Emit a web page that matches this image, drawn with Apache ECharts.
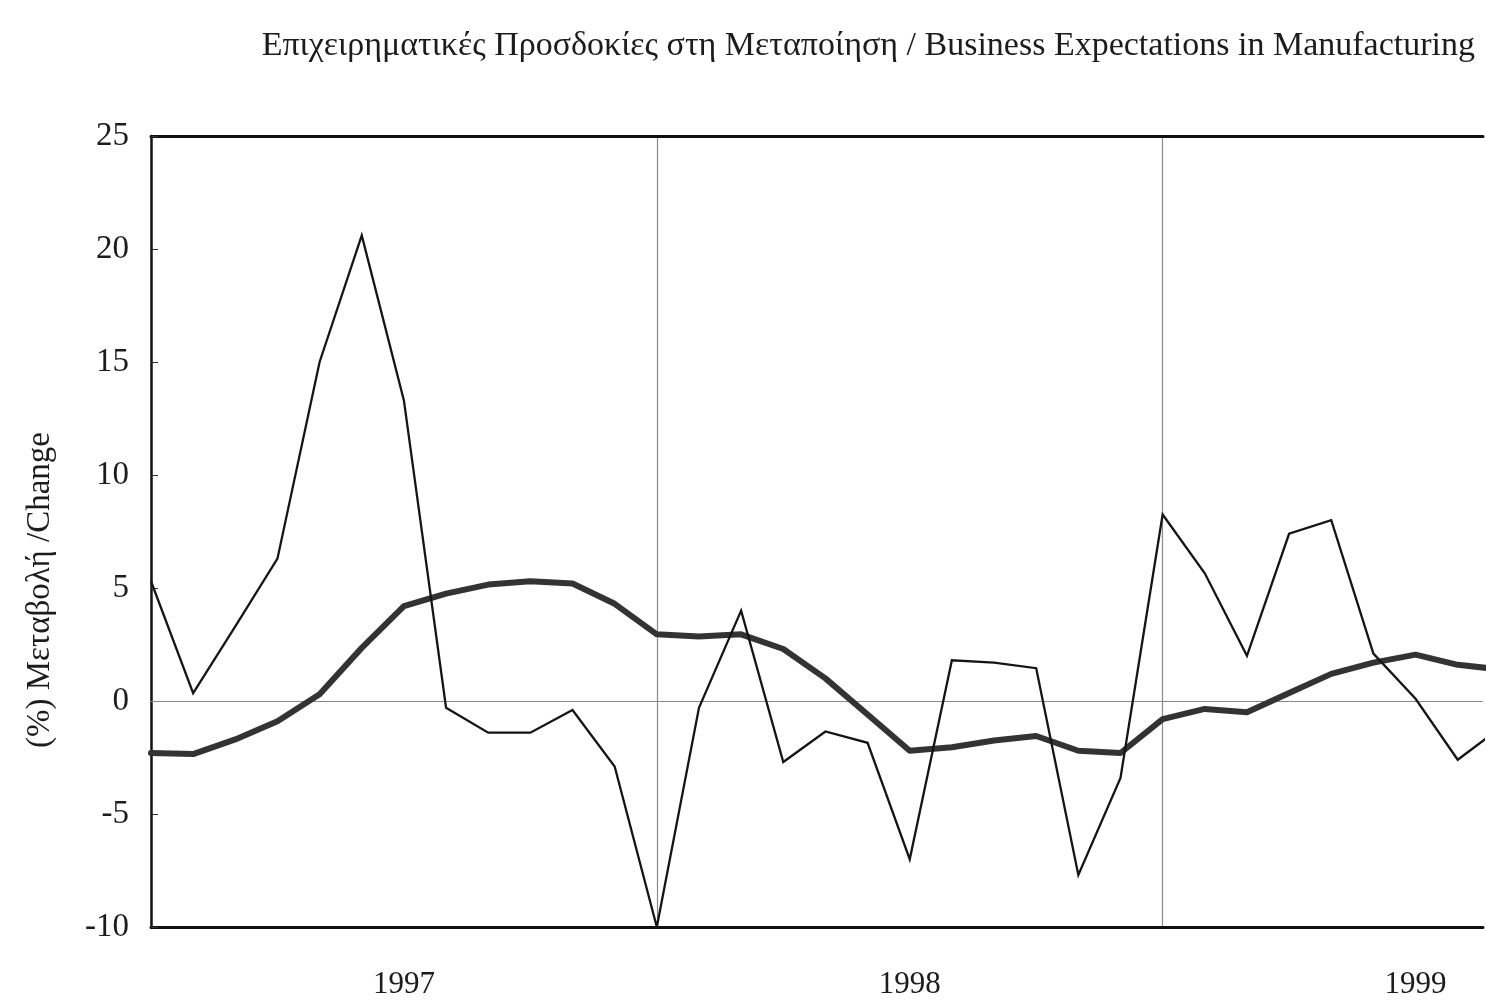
<!DOCTYPE html>
<html>
<head>
<meta charset="utf-8">
<script src="https://cdn.jsdelivr.net/npm/echarts@6/dist/echarts.min.js"></script>
<style>
  html, body { margin: 0; padding: 0; background: #ffffff; }
  #chart { width: 1486px; height: 1004px; }
</style>
</head>
<body>
<div id="chart"></div>
<script>
// Monthly readings from January 1997 onward (index 0 = Jan 1997)
const monthlyChange = [
  5.3, 0.35, 3.3, 6.3, 15.0, 20.6, 13.3, -0.3, -1.4, -1.4, -0.4, -2.9,
  -10.0, -0.3, 4.0, -2.7, -1.35, -1.85, -7.0, 1.8, 1.7, 1.45, -7.7, -3.4,
  8.25, 5.65, 2.0, 7.4, 8.0, 2.1, 0.1, -2.6, -1.2
];
// Smoothed trend of the same indicator
const trendChange = [
  -2.3, -2.35, -1.7, -0.9, 0.3, 2.35, 4.2, 4.75, 5.15, 5.3, 5.2, 4.3,
  2.95, 2.85, 2.95, 2.3, 1.0, -0.6, -2.2, -2.05, -1.75, -1.55, -2.2, -2.3,
  -0.8, -0.35, -0.5, 0.35, 1.2, 1.7, 2.05, 1.6, 1.4
];
const yearLabels = ['1997', '1998', '1999'];
const yTicks = { min: -10, max: 25, step: 5 };
// visible span of the time axis, in months from Jan 1997
const monthSpan = 31.6;

const titleText = 'Επιχειρηματικές Προσδοκίες στη Μεταποίηση / Business Expectations in Manufacturing';
const yName = '(%) Μεταβολή /Change';

const serif = '"Liberation Serif", "DejaVu Serif", serif';
const ink = '#1c1c1c';

const toPairs = arr => arr.map((v, i) => [i, v]);

const chart = echarts.init(document.getElementById('chart'), null, { renderer: 'canvas' });

const baseX = {
  type: 'value', min: 0, max: monthSpan,
  axisTick: { show: false },
  splitLine: { show: false },
  axisLabel: { show: false },
  axisLine: { show: false, onZero: false }
};

chart.setOption({
  backgroundColor: '#ffffff',
  animation: false,
  title: {
    text: titleText,
    right: 6,
    top: 24,
    textStyle: { fontFamily: serif, fontSize: 34, fontWeight: 'normal', color: ink }
  },
  graphic: [
    {
      type: 'text',
      x: 40, y: 590,
      rotation: Math.PI / 2,
      style: {
        text: yName,
        font: '33px ' + serif,
        fill: ink,
        align: 'center',
        verticalAlign: 'middle'
      }
    }
  ],
  grid: {
    left: 151,
    top: 136,
    right: 0,
    bottom: 77,
    show: false
  },
  xAxis: [
    Object.assign({}, baseX, {
      // year boundaries and bottom frame
      interval: 12,
      position: 'bottom',
      axisLine: { show: true, onZero: false, lineStyle: { color: '#111', width: 3 } },
      splitLine: {
        show: true,
        showMinLine: false,
        showMaxLine: false,
        lineStyle: { color: '#8a8a8a', width: 1.2 }
      }
    }),
    Object.assign({}, baseX, {
      // year names centred in each year span
      interval: 6,
      position: 'bottom',
      axisLabel: {
        show: true,
        margin: 42,
        fontFamily: serif,
        fontSize: 31,
        color: ink,
        formatter: v => (v % 12 === 6 ? yearLabels[(v - 6) / 12] || '' : '')
      }
    }),
    Object.assign({}, baseX, {
      // top frame
      interval: 12,
      position: 'top',
      axisLine: { show: true, onZero: false, lineStyle: { color: '#111', width: 3 } }
    })
  ],
  yAxis: {
    type: 'value',
    min: yTicks.min, max: yTicks.max, interval: yTicks.step,
    axisLine: { show: true, onZero: false, lineStyle: { color: '#111', width: 2.5 } },
    axisTick: { show: true, inside: true, length: 7, lineStyle: { color: '#333', width: 1 } },
    axisLabel: { margin: 22, fontFamily: serif, fontSize: 33, color: ink },
    splitLine: { show: false }
  },
  series: [
    {
      name: 'trend',
      type: 'line',
      xAxisIndex: 0,
      data: toPairs(trendChange),
      symbol: 'none',
      lineStyle: { color: '#333333', width: 6, join: 'round', cap: 'round' },
      z: 3,
      markLine: {
        silent: true,
        symbol: 'none',
        label: { show: false },
        lineStyle: { color: '#8a8a8a', width: 1.2, type: 'solid' },
        data: [{ yAxis: 0 }],
        z: 1
      }
    },
    {
      name: 'monthly',
      type: 'line',
      xAxisIndex: 0,
      data: toPairs(monthlyChange),
      symbol: 'none',
      lineStyle: { color: '#151515', width: 2.3, join: 'miter' },
      z: 4
    }
  ]
});
</script>
</body>
</html>
